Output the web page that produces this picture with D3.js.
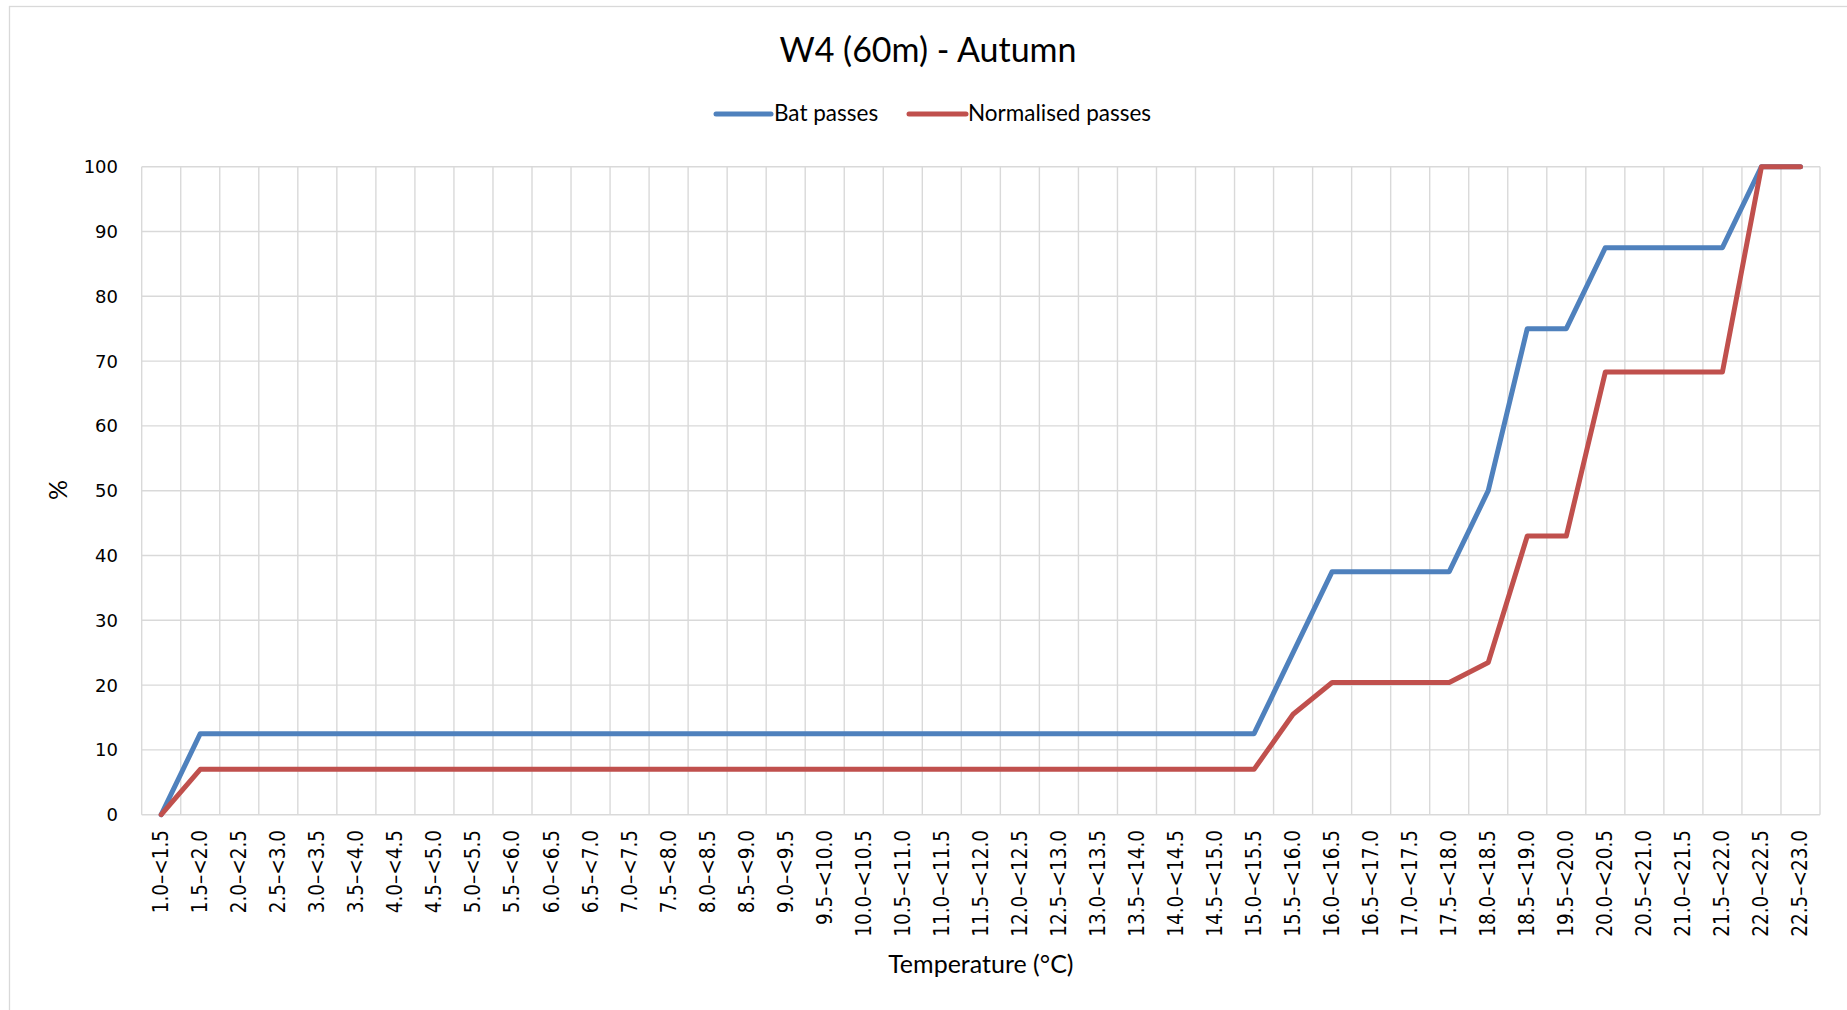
<!DOCTYPE html>
<html>
<head>
<meta charset="utf-8">
<script src="https://cdn.jsdelivr.net/npm/d3@7"></script>
<style>
  body { margin: 0; background: #fff; }
  svg { display: block; }
</style>
</head>
<body>
<svg id="chart" width="1847" height="1010"></svg>
<script>
// Temperature bins (°C)
const categories = [
  "1.0–<1.5", "1.5–<2.0", "2.0–<2.5", "2.5–<3.0", "3.0–<3.5", "3.5–<4.0",
  "4.0–<4.5", "4.5–<5.0", "5.0–<5.5", "5.5–<6.0", "6.0–<6.5", "6.5–<7.0",
  "7.0–<7.5", "7.5–<8.0", "8.0–<8.5", "8.5–<9.0", "9.0–<9.5", "9.5–<10.0",
  "10.0–<10.5", "10.5–<11.0", "11.0–<11.5", "11.5–<12.0", "12.0–<12.5", "12.5–<13.0",
  "13.0–<13.5", "13.5–<14.0", "14.0–<14.5", "14.5–<15.0", "15.0–<15.5", "15.5–<16.0",
  "16.0–<16.5", "16.5–<17.0", "17.0–<17.5", "17.5–<18.0", "18.0–<18.5", "18.5–<19.0",
  "19.5–<20.0", "20.0–<20.5", "20.5–<21.0", "21.0–<21.5", "21.5–<22.0", "22.0–<22.5",
  "22.5–<23.0"
];

// Cumulative % of bat passes per bin
const batPasses = [
  0, 12.5, 12.5, 12.5, 12.5, 12.5, 12.5, 12.5, 12.5, 12.5, 12.5, 12.5,
  12.5, 12.5, 12.5, 12.5, 12.5, 12.5, 12.5, 12.5, 12.5, 12.5, 12.5, 12.5,
  12.5, 12.5, 12.5, 12.5, 12.5, 25, 37.5, 37.5, 37.5, 37.5, 50, 75,
  75, 87.5, 87.5, 87.5, 87.5, 100, 100
];

// Cumulative % of normalised passes per bin
const normalisedPasses = [
  0, 7.0, 7.0, 7.0, 7.0, 7.0, 7.0, 7.0, 7.0, 7.0, 7.0, 7.0,
  7.0, 7.0, 7.0, 7.0, 7.0, 7.0, 7.0, 7.0, 7.0, 7.0, 7.0, 7.0,
  7.0, 7.0, 7.0, 7.0, 7.0, 15.5, 20.4, 20.4, 20.4, 20.4, 23.5, 43.0,
  43.0, 68.3, 68.3, 68.3, 68.3, 100, 100
];

const yTicks = [0, 10, 20, 30, 40, 50, 60, 70, 80, 90, 100];

const seriesNames = ["Bat passes", "Normalised passes"];
const seriesColors = ["#4f81bd", "#c0504d"];

const titleText = "W4 (60m) - Autumn";
const xTitle = "Temperature (°C)";
const yTitle = "%";

const svg = d3.select("#chart");
const labelFont = "Lato, 'Open Sans', sans-serif";
const tickFont = "'DejaVu Sans', Verdana, sans-serif";
const binFont = "'DejaVu Sans Condensed', 'Liberation Sans', sans-serif";

const plot = { left: 141.7, right: 1820, top: 166.7, bottom: 814.7 };

const x = d3.scaleBand().domain(categories).range([plot.left, plot.right]).padding(0);
const y = d3.scaleLinear().domain([0, 100]).range([plot.bottom, plot.top]);

// outer chart frame
svg.append("rect")
  .attr("x", 9.5).attr("y", 6.5)
  .attr("width", 1900).attr("height", 1100)
  .attr("fill", "none").attr("stroke", "#d9d9d9").attr("stroke-width", 1.3);

// horizontal gridlines
const grid = svg.append("g").attr("stroke", "#d9d9d9").attr("stroke-width", 1.4);
grid.selectAll("line.h").data(yTicks).join("line")
  .attr("class", "h")
  .attr("x1", plot.left).attr("x2", plot.right)
  .attr("y1", d => y(d)).attr("y2", d => y(d));

// vertical gridlines on category boundaries
const boundaries = categories.map(c => x(c)).concat([plot.right]);
grid.selectAll("line.v").data(boundaries).join("line")
  .attr("class", "v")
  .attr("x1", d => d).attr("x2", d => d)
  .attr("y1", plot.top).attr("y2", plot.bottom);

// y-axis tick labels
svg.append("g").selectAll("text").data(yTicks).join("text")
  .attr("x", 118).attr("y", d => y(d))
  .attr("text-anchor", "end").attr("dominant-baseline", "central")
  .attr("font-family", tickFont).attr("font-size", 18).attr("fill", "#000")
  .text(d => d);

// x-axis tick labels, rotated to read upward
svg.append("g").selectAll("text").data(categories).join("text")
  .attr("transform", d => `translate(${x(d) + x.bandwidth() / 2},830) rotate(-90)`)
  .attr("text-anchor", "end").attr("dominant-baseline", "central")
  .attr("font-family", binFont).attr("font-size", 20.5).attr("fill", "#000")
  .text(d => d);

// series lines
const line = d3.line()
  .x((d, i) => x(categories[i]) + x.bandwidth() / 2)
  .y(d => y(d));

[batPasses, normalisedPasses].forEach((vals, si) => {
  svg.append("path")
    .datum(vals)
    .attr("d", line)
    .attr("fill", "none")
    .attr("stroke", seriesColors[si])
    .attr("stroke-width", 5)
    .attr("stroke-linejoin", "round")
    .attr("stroke-linecap", "round");
});

// title
svg.append("text")
  .attr("x", 928).attr("y", 62)
  .attr("text-anchor", "middle")
  .attr("font-family", labelFont).attr("font-size", 34).attr("fill", "#000")
  .text(titleText);

// legend
const legendItems = [
  { x0: 716, x1: 771, tx: 774 },
  { x0: 909, x1: 966, tx: 968 }
];
const legend = svg.append("g");
legendItems.forEach((it, i) => {
  legend.append("line")
    .attr("x1", it.x0).attr("x2", it.x1)
    .attr("y1", 114).attr("y2", 114)
    .attr("stroke", seriesColors[i]).attr("stroke-width", 5)
    .attr("stroke-linecap", "round");
  legend.append("text")
    .attr("x", it.tx).attr("y", 121)
    .attr("font-family", labelFont).attr("font-size", 22.5).attr("fill", "#000")
    .text(seriesNames[i]);
});

// axis titles
svg.append("text")
  .attr("x", (plot.left + plot.right) / 2).attr("y", 973)
  .attr("text-anchor", "middle")
  .attr("font-family", labelFont).attr("font-size", 25).attr("fill", "#000")
  .text(xTitle);

svg.append("text")
  .attr("transform", `translate(67,490) rotate(-90)`)
  .attr("text-anchor", "middle")
  .attr("font-family", labelFont).attr("font-size", 25).attr("fill", "#000")
  .text(yTitle);
</script>
</body>
</html>
